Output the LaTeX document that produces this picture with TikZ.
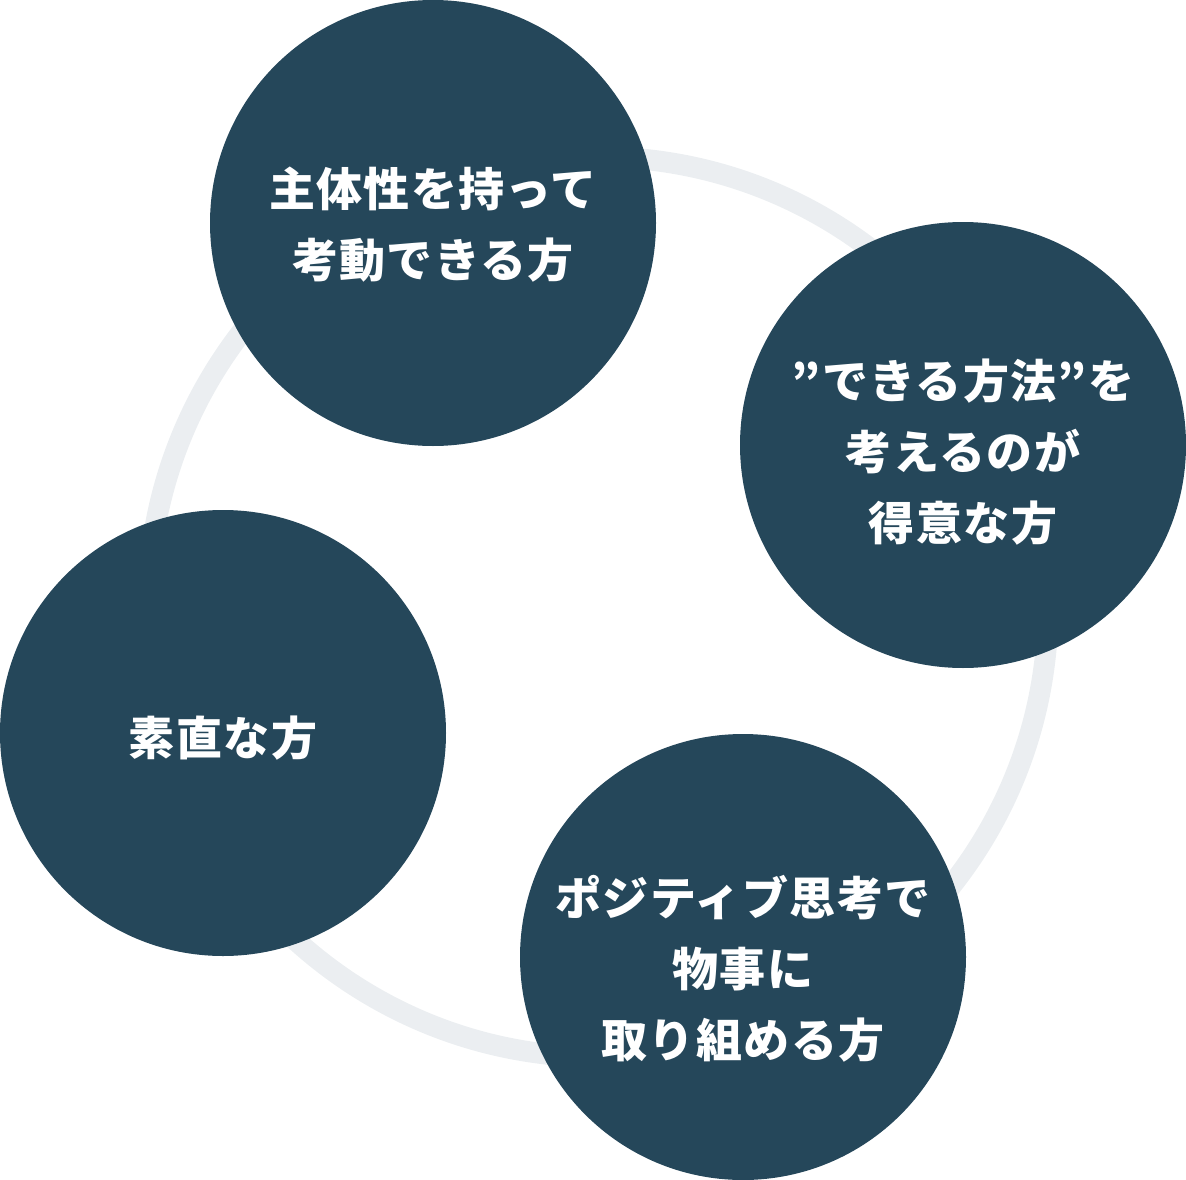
\documentclass[tikz,border=0pt]{standalone}
\usepackage{fontspec}
\newfontfamily\jpfont[LetterSpace=3]{Noto Sans CJK JP}
\definecolor{navy}{HTML}{25475A}
\definecolor{ringgray}{HTML}{EBEEF1}

\begin{document}
\begin{tikzpicture}
 [x=1pt, y=-1pt,
  main node/.style={circle, fill=navy, minimum size=446pt, inner sep=0pt},
  main text/.style={text=white, align=center, inner sep=0pt,
    font=\jpfont\bfseries\fontsize{46}{71}\selectfont},
  ring/.style={draw=ringgray, line width=21pt}]

\useasboundingbox (0,0) rectangle (1186,1180);

\coordinate (c) at (598,607);
\draw[ring] (c) circle [radius=450pt];

\node[main node] (1) at (433,223) {};
\node[main node] (2) at (963,445) {};
\node[main node] (3) at (223,733) {};
\node[main node] (4) at (743,957) {};

\node[main text] (t1) at ([yshift=-2pt]1.center) {主体性を持って\\考動できる方};
\node[main text] (t2) at ([yshift=-7pt]2.center) {”できる方法”を\\考えるのが\\得意な方};
\node[main text] (t3) at ([yshift=-5pt]3.center) {素直な方};
\node[main text] (t4) at ([yshift=-12pt]4.center) {ポジティブ思考で\\物事に\\取り組める方};

\end{tikzpicture}
\end{document}
